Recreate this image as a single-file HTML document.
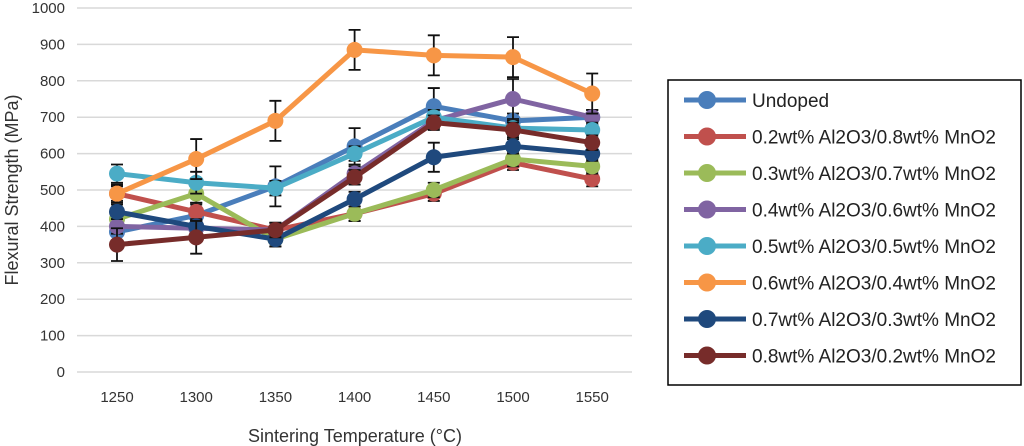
<!DOCTYPE html>
<html><head><meta charset="utf-8"><style>
html,body{margin:0;padding:0;background:#fff;}
svg{display:block;font-family:"Liberation Sans",sans-serif;}
</style></head><body>
<svg id="c" width="1024" height="446"></svg>
<script>
const categories=[1250,1300,1350,1400,1450,1500,1550];
const yTicks=[0,100,200,300,400,500,600,700,800,900,1000];
const seriesNames=["Undoped","0.2wt% Al2O3/0.8wt% MnO2","0.3wt% Al2O3/0.7wt% MnO2","0.4wt% Al2O3/0.6wt% MnO2","0.5wt% Al2O3/0.5wt% MnO2","0.6wt% Al2O3/0.4wt% MnO2","0.7wt% Al2O3/0.3wt% MnO2","0.8wt% Al2O3/0.2wt% MnO2"];
const sUndoped=[385,430,510,620,730,690,700];
const s02=[490,440,390,435,490,575,530];
const s03=[420,490,365,435,500,585,565];
const s04=[400,395,390,545,690,750,700];
const s05=[545,520,505,600,700,670,665];
const s06=[490,585,690,885,870,865,765];
const s07=[440,400,365,475,590,620,600];
const s08=[350,370,390,535,685,665,630];
const errUndoped=[30,30,55,50,50,20,20];
const err02=[20,25,20,20,20,20,20];
const err03=[20,25,20,20,20,20,20];
const err04=[20,20,20,20,20,55,20];
const err05=[25,30,20,20,20,20,20];
const err06=[25,55,55,55,55,55,55];
const err07=[20,20,20,20,40,20,20];
const err08=[45,45,20,20,20,20,20];
const allSeries=[sUndoped,s02,s03,s04,s05,s06,s07,s08];
const allErr=[errUndoped,err02,err03,err04,err05,err06,err07,err08];
const colors=["#4a7ebb","#c0504d","#9bbb59","#8064a2","#4bacc6","#f79646","#1f497d","#772c2a"];

const NS="http://www.w3.org/2000/svg";
const svg=document.getElementById('c');
const X0=77,X1=632,Y0=372,Y1=8;
const xPos=i=>117+i*79.2;
const yPos=v=>Y0-(v/1000)*(Y0-Y1);
function mk(t,a,p){const e=document.createElementNS(NS,t);for(const k in a)e.setAttribute(k,a[k]);(p||svg).appendChild(e);return e;}

yTicks.forEach(t=>{
  const g=mk('line',{x1:X0,x2:X1,y1:yPos(t),y2:yPos(t),stroke:'#d9d9d9','stroke-width':1.5});
  
  
  const l=mk('text',{x:65,y:yPos(t)+5,'text-anchor':'end','font-size':15,fill:'#333'});
  l.textContent=t;
  
  
});
categories.forEach((c,i)=>{
  const l=mk('text',{x:xPos(i),y:402,'text-anchor':'middle','font-size':15,fill:'#333'});
  l.textContent=c;
  
  
});
const yt=mk('text',{x:0,y:0,transform:'translate(18,190) rotate(-90)','text-anchor':'middle','font-size':18,fill:'#333'});
yt.textContent='Flexural Strength (MPa)';


const xt=mk('text',{x:355,y:442,'text-anchor':'middle','font-size':18,fill:'#333'});
xt.textContent='Sintering Temperature (°C)';



allSeries.forEach((s,si)=>{
  const g=mk('g',{});
  
  
  const pl=mk('polyline',{points:s.map((v,i)=>xPos(i)+','+yPos(v)).join(' '),fill:'none',stroke:colors[si],'stroke-width':5,'stroke-linejoin':'round'},g);
  
  
  s.forEach((v,i)=>{
    const e=allErr[si][i],x=xPos(i);
    const eb=mk('path',{d:`M${x},${yPos(v+e)}V${yPos(v-e)}M${x-6},${yPos(v+e)}H${x+6}M${x-6},${yPos(v-e)}H${x+6}`,stroke:'#111','stroke-width':1.8,fill:'none'},g);
    
    
  });
  s.forEach((v,i)=>{
    const m=mk('circle',{cx:xPos(i),cy:yPos(v),r:8,fill:colors[si]},g);
    
    
  });
});

const lg=mk('g',{});


mk('rect',{x:668,y:80,width:353,height:305,fill:'#fff',stroke:'#000','stroke-width':1.5},lg);
seriesNames.forEach((n,i)=>{
  const y=100+i*36.5;
  const e=mk('g',{},lg);
  
  
  mk('line',{x1:684,x2:746,y1:y,y2:y,stroke:colors[i],'stroke-width':5},e);
  mk('circle',{cx:707,cy:y,r:9,fill:colors[i]},e);
  const t=mk('text',{x:752,y:y+7,'font-size':19,fill:'#222'},e);
  t.textContent=n;
});
</script>
</body></html>
